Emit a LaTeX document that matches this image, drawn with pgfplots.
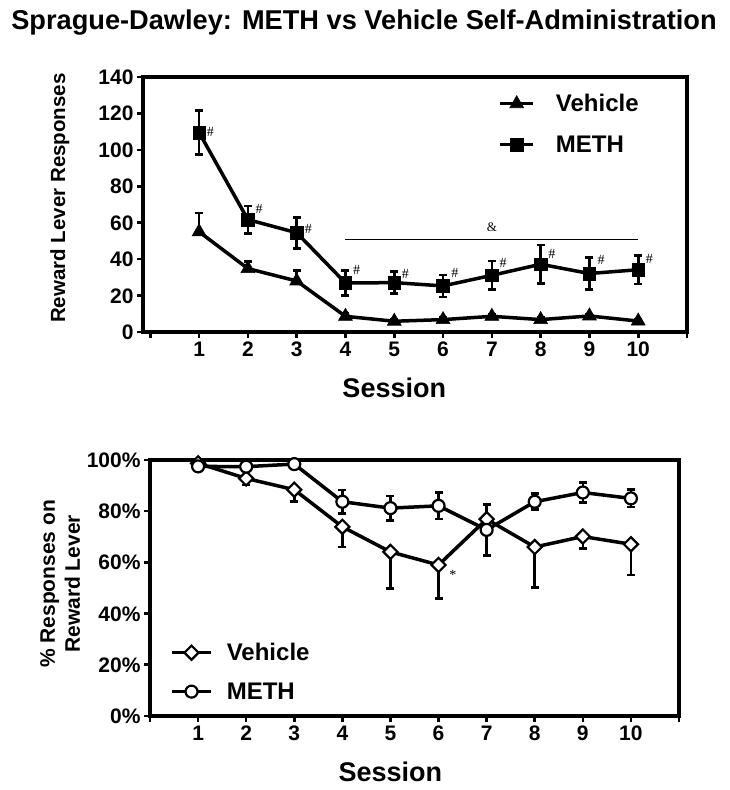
\documentclass[border=0pt]{standalone}
\usepackage{pgfplots}
\pgfplotsset{compat=1.18}
\usepackage{pgfplotstable}
\usepackage{fontspec}
\setmainfont{Liberation Sans}
\newfontfamily\serifA{Liberation Serif}

\pgfplotstableread{
x y e
1 109.5 12.0
2 61.7 7.5
3 54.5 8.5
4 26.9 6.8
5 27.1 6.0
6 25.3 6.1
7 31.1 7.8
8 37.2 10.5
9 32.1 8.7
10 34.2 7.8
}\methtop
\pgfplotstableread{
x y e
1 55.0 10.4
2 34.8 3.8
3 28.0 5.9
4 8.6 1.5
5 5.9 1.0
6 6.8 1.0
7 8.6 1.0
8 6.8 1.0
9 8.8 1.0
10 6.0 1.0
}\vehtop
\pgfplotstableread{
x y e
1 98.7 0.5
2 92.8 2.6
3 88.4 4.7
4 73.9 7.9
5 64.1 14.3
6 59.0 13.2
7 76.9 1.0
8 66.0 15.7
9 70.1 4.7
10 67.1 12.1
}\vehbot
\pgfplotstableread{
x y e
1 97.5 0.5
2 97.4 0.5
3 98.4 0.5
4 83.7 4.6
5 81.2 4.8
6 82.1 5.1
7 72.7 9.9
8 83.7 3.1
9 87.3 3.8
10 85.0 3.4
}\methbot

\pgfplotsset{
  common/.style={
    scale only axis, clip=false,
    axis line style={line width=3.2pt},
    tick style={line width=2.6pt, black},
    tick align=outside, major tick length=6pt,
    xtick pos=bottom, ytick pos=left,
    /pgf/number format/assume math mode=true,
    tick label style={font=\bfseries\fontsize{21}{25}\selectfont},
    xticklabel style={text height=15pt, text depth=0pt},
    yticklabel style={text height=15pt, text depth=0pt},
    legend cell align=left,
  },
  ebars/.style={error bars/.cd, y explicit, y dir=#1,
    error bar style={line width=2.6pt},
    error mark options={rotate=90, mark size=4pt, line width=2.6pt}},
}
\newcommand{\hs}[2]{\node[font=\serifA\fontsize{14}{14}\selectfont] at (axis cs:#1,#2) {\#};}

\begin{document}
\begin{tikzpicture}
\path[use as bounding box] (0pt,0pt) rectangle (729pt,790pt);
\node[anchor=base, font=\bfseries\fontsize{27.2}{32}\selectfont] at (364pt,760.5pt) {Sprague-Dawley: METH vs Vehicle Self-Administration};

% ---------------- top chart ----------------
\begin{axis}[common,
  at={(143pt,458pt)}, anchor=south west, width=544pt, height=255pt,
  xmin=-0.15, xmax=11, ymin=0, ymax=140,
  xtick={0,1,2,3,4,5,6,7,8,9,10,11},
  xticklabels={,1,2,3,4,5,6,7,8,9,10,},
  ytick={0,20,40,60,80,100,120,140},
  ylabel={Reward Lever Responses},
  ylabel style={at={(axis description cs:-0.153,0.525)}, anchor=center, font=\bfseries\fontsize{20.5}{24}\selectfont},
  legend style={draw=none, fill=none, at={(axis description cs:0.653,0.933)}, anchor=north west,
    inner sep=0pt, nodes={inner sep=0pt}, row sep=22.5pt, column sep=21pt,
    font=\bfseries\fontsize{24}{28}\selectfont},
  legend image code/.code={\draw[mark repeat=2,mark phase=2,#1] plot coordinates {(0pt,0pt)(16.5pt,0pt)(33pt,0pt)};},
]
\addplot[black, line width=3.5pt, mark=triangle*, mark size=8pt, mark options={solid, line width=0.6pt},
  ebars=plus] table[x=x,y=y,y error=e] {\vehtop};
\addlegendentry{Vehicle}
\addplot[black, line width=3.5pt, mark=square*, mark size=6.3pt, mark options={solid, line width=0.6pt},
  ebars=both] table[x=x,y=y,y error=e] {\methtop};
\addlegendentry{METH}
\addplot[black, line width=0.8pt, forget plot] coordinates {(4,50.9) (10,50.9)};
\node[font=\serifA\fontsize{13}{13}\selectfont] at (axis cs:7,57.5) {\&};
\hs{1.23}{110}
\hs{2.23}{67.8}
\hs{3.24}{56.4}
\hs{4.23}{33.9}
\hs{5.23}{32}
\hs{6.24}{32.4}
\hs{7.23}{37.9}
\hs{8.23}{42.7}
\hs{9.24}{39.7}
\hs{10.23}{40.3}
\node[font=\bfseries\fontsize{27}{31}\selectfont] at (axis cs:5,0) [yshift=-56pt] {Session};
\end{axis}

% ---------------- bottom chart ----------------
\begin{axis}[common,
  at={(150pt,74pt)}, anchor=south west, width=529pt, height=256pt,
  xmin=0, xmax=11, ymin=0, ymax=100,
  xtick={0,1,2,3,4,5,6,7,8,9,10,11},
  xticklabels={,1,2,3,4,5,6,7,8,9,10,},
  ytick={0,20,40,60,80,100},
  yticklabel={\pgfmathprintnumber{\tick}\%},
  ylabel={\% Responses on\\Reward Lever},
  ylabel style={at={(axis description cs:-0.170,0.516)}, anchor=center, align=center, font=\bfseries\fontsize{21}{25}\selectfont},
  legend style={draw=none, fill=none, at={(axis description cs:0.038,0.285)}, anchor=north west,
    inner sep=0pt, nodes={inner sep=0pt}, row sep=20.5pt, column sep=14pt,
    font=\bfseries\fontsize{24}{28}\selectfont},
  legend image code/.code={\draw[mark repeat=2,mark phase=2,#1] plot coordinates {(0pt,0pt)(19.5pt,0pt)(39pt,0pt)};},
]
\addplot[black, line width=3.5pt, mark=square*, mark size=5pt, mark options={solid, rotate=45, fill=white, line width=2.2pt},
  ebars=minus] table[x=x,y=y,y error=e] {\vehbot};
\addlegendentry{Vehicle}
\addplot[black, line width=3.5pt, mark=*, mark size=6pt, mark options={solid, fill=white, line width=2.2pt},
  ebars=both] table[x=x,y=y,y error=e] {\methbot};
\addlegendentry{METH}
\node[font=\serifA\fontsize{14}{14}\selectfont] at (axis cs:6.3,55) {*};
\node[font=\bfseries\fontsize{27}{31}\selectfont] at (axis cs:5,0) [yshift=-56pt] {Session};
\end{axis}
\end{tikzpicture}
\end{document}
